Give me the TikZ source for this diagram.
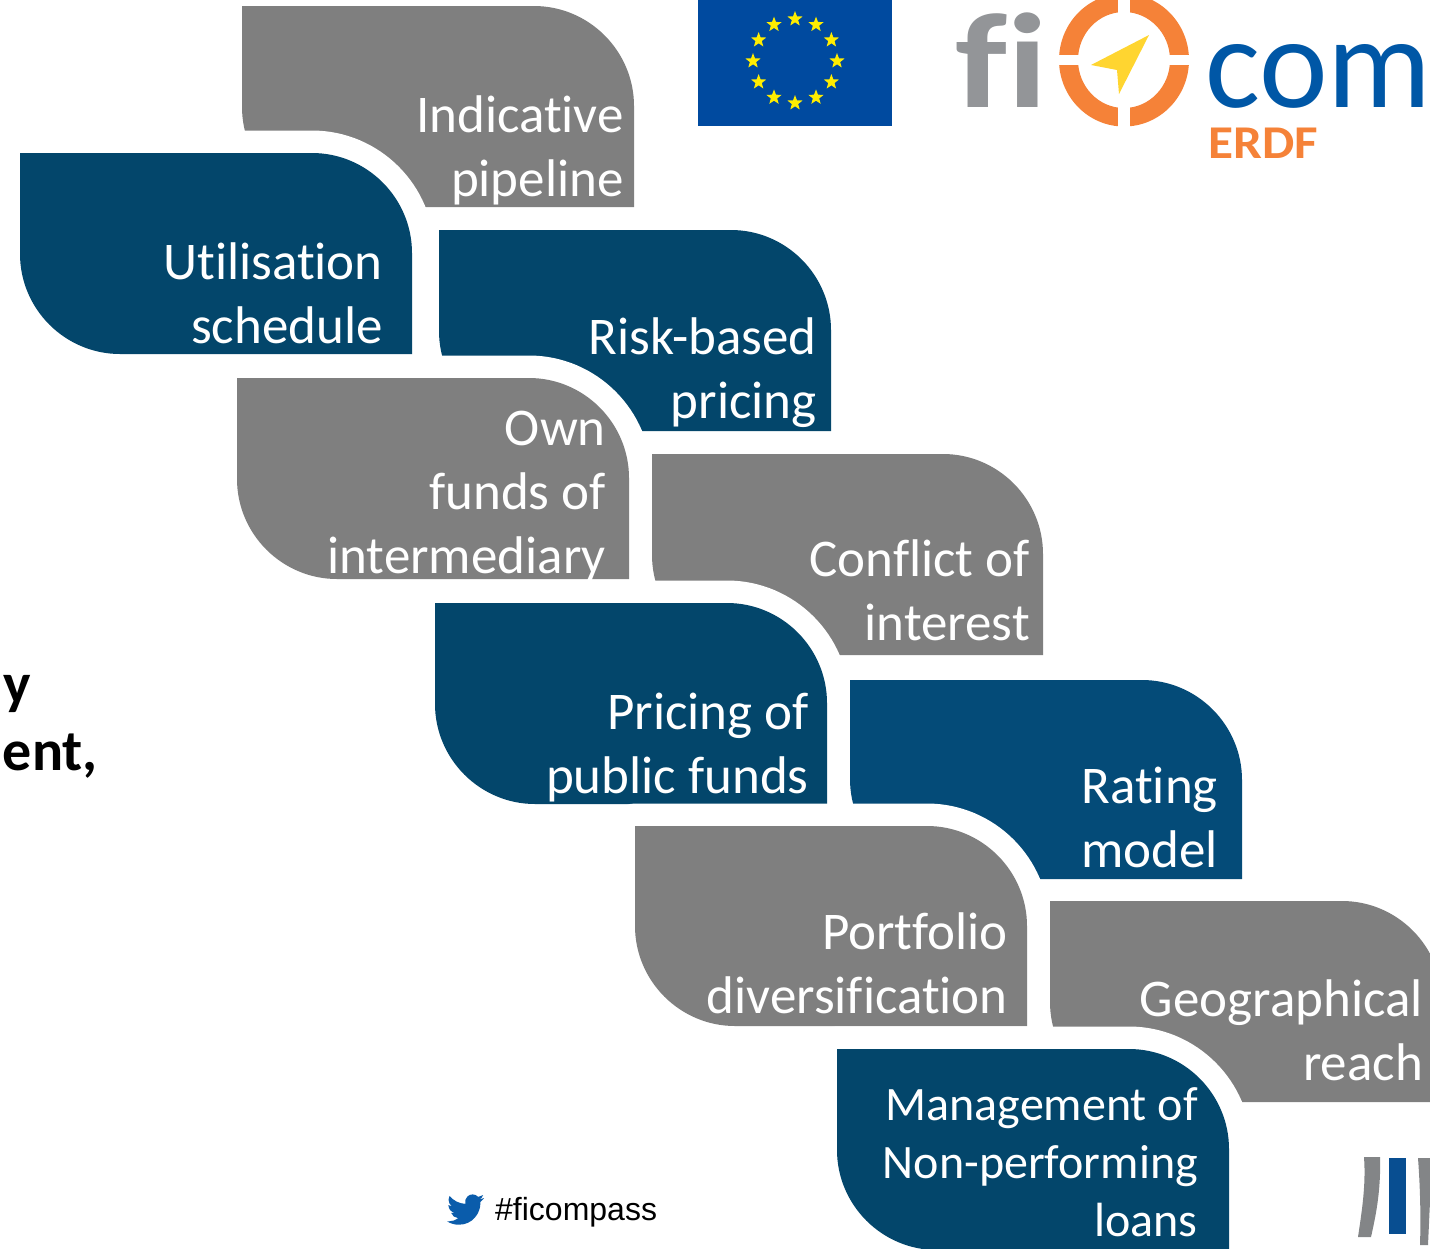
\documentclass[tikz,border=0pt]{standalone}
\usepackage{fontspec}
\usepackage{graphicx}
\setmainfont[Ligatures=NoCommon]{Carlito}
\newfontfamily\arialfont{Liberation Sans}
\usetikzlibrary{shapes.geometric}
\definecolor{tileGrey}{HTML}{7F7F7F}
\definecolor{tileBlue}{HTML}{03466B}
\definecolor{tileMid}{HTML}{044B78}
\definecolor{euBlue}{HTML}{004A9F}
\definecolor{euYellow}{HTML}{FFED00}
\definecolor{logoGrey}{HTML}{939598}
\definecolor{logoBlue}{HTML}{0057A6}
\definecolor{logoOrange}{HTML}{F58238}
\definecolor{logoYellow}{HTML}{FFD530}
\definecolor{birdBlue}{HTML}{0A5CAB}
\tikzset{
  tiletext/.style={anchor=base east,align=right,text=white,inner sep=0pt,font=\fontsize{53}{64}\selectfont},
  halo/.style={draw=white,line width=45pt,line join=round},
  eustar/.style={star,star points=5,star point ratio=2.4,fill=euYellow,inner sep=0pt,minimum size=16pt}
}
% #1 left, #2 top, #3 right, #4 bottom, #5 options
\newcommand{\tilepath}[5]{%
  \path[#5] (#1,#2) -- (#3-100,#2)
    .. controls (#3-45,#2) and (#3,#2+45) .. (#3,#2+100)
    -- (#3,#4) -- (#1+100,#4)
    .. controls (#1+45,#4) and (#1,#4-45) .. (#1,#4-100) -- cycle;}
\begin{document}
\begin{tikzpicture}[x=1pt,y=-1pt]
\useasboundingbox (0,0) rectangle (1430,1248);
\clip (0,0) rectangle (1430,1248);

% tiles, each later one cutting a white edge into the one before it
\tilepath{242}{6}{634}{207}{fill=tileGrey}
\tilepath{20}{153}{412}{354}{halo}
\tilepath{20}{153}{412}{354}{fill=tileBlue}
\tilepath{439}{230}{831}{431}{fill=tileBlue}
\tilepath{237}{378}{629}{579}{halo}
\tilepath{237}{378}{629}{579}{fill=tileGrey}
\tilepath{652}{454}{1043}{655}{fill=tileGrey}
\tilepath{435}{603}{827}{804}{halo}
\tilepath{435}{603}{827}{804}{fill=tileBlue}
\tilepath{850}{680}{1242}{879}{fill=tileMid}
\tilepath{635}{826}{1027}{1026}{halo}
\tilepath{635}{826}{1027}{1026}{fill=tileGrey}
\tilepath{1050}{901}{1442}{1102}{fill=tileGrey}
\tilepath{837}{1049}{1229}{1250}{halo}
\tilepath{837}{1049}{1229}{1250}{fill=tileBlue}

% tile labels
\node[tiletext] (pipeline) at (624,196) {Indicative\\pipeline};
\node[tiletext] (schedule) at (383,343) {Utilisation\\schedule};
\node[tiletext] (riskprice) at (817,418) {Risk-based\\pricing};
\node[tiletext] (ownfunds) at (606,573) {Own\\funds of\\intermediary};
\node[tiletext] (conflict) at (1030,640) {Conflict of\\interest};
\node[tiletext] (publicprice) at (809,793) {Pricing of\\public funds};
\node[tiletext] (rating) at (1218,867) {Rating\\model};
\node[tiletext] (portfolio) at (1008,1013) {Portfolio\\diversification};
\node[tiletext] (geo) at (1423,1080) {Geographical\\reach};
\node[tiletext,font=\fontsize{48}{58}\selectfont] (npl) at (1198,1236) {Management of\\Non-performing\\loans};

% left heading fragment
\node[anchor=base east,inner sep=0pt,font=\bfseries\fontsize{58}{64}\selectfont] (headA) at (31,703) {y};
\node[anchor=base east,inner sep=0pt,font=\bfseries\fontsize{58}{64}\selectfont] (headB) at (98,770) {ent,};

% EU flag
\fill[euBlue] (698,-2) rectangle (892,126);
\foreach \a in {0,30,...,330}
  \node[eustar] at ({795+42*cos(\a)},{61+42*sin(\a)}) {};

% fi-compass logo
\node[anchor=base west,inner sep=0pt,text=logoGrey,font=\bfseries\fontsize{135}{135}\selectfont] (fi) at (955,107) {\scalebox{1.22}[1]{fi}};
\fill[logoOrange,even odd rule] (1124,60) ellipse [x radius=65,y radius=66.5] (1124,60) ellipse [x radius=46,y radius=48];
\fill[white] (1118,-8) rectangle (1130,130);
\fill[white] (1050,55) rectangle (1200,65);
\fill[logoYellow] (1149,35) -- (1091,65) -- (1117,70) -- (1119,94) -- cycle;
\node[anchor=base west,inner sep=0pt,text=logoBlue,font=\fontsize{130}{130}\selectfont] (com) at (1205,107) {\scalebox{1}[1]{com}};
\node[anchor=base west,inner sep=0pt,text=logoOrange,font=\bfseries\fontsize{47}{47}\selectfont] (erdf) at (1208,158) {\scalebox{1.09}[1]{ERDF}};

% twitter handle
\begin{scope}[shift={(447,1191)},x=1.55pt,y=-1.55pt]
\fill[birdBlue] (23.95,4.57) .. controls (23.1,4.95) and (22.1,5.2) .. (21.13,5.35)
 .. controls (22.1,4.8) and (22.9,3.8) .. (23.29,2.62)
 .. controls (22.34,3.18) and (21.29,3.58) .. (20.16,3.8)
 .. controls (18.2,1.7) and (15,1.7) .. (13.2,3.5)
 .. controls (12,4.7) and (11.4,6.5) .. (11.78,8.29)
 .. controls (7.69,8.09) and (4.07,6.13) .. (1.64,3.16)
 .. controls (1.2,3.9) and (.97,4.75) .. (.97,5.64)
 .. controls (.97,7.35) and (1.84,8.85) .. (3.16,9.73)
 .. controls (2.35,9.7) and (1.6,9.5) .. (.93,9.12) -- (.93,9.18)
 .. controls (.93,11.5) and (2.6,13.6) .. (4.88,14)
 .. controls (4.2,14.2) and (3.4,14.2) .. (2.67,14.09)
 .. controls (3.3,16) and (5.1,17.4) .. (7.27,17.5)
 .. controls (5.6,18.85) and (3.4,19.6) .. (1.17,19.6)
 .. controls (.78,19.6) and (.39,19.58) .. (0,19.54)
 .. controls (2.2,20.95) and (4.8,21.75) .. (7.56,21.75)
 .. controls (16.61,21.75) and (21.56,14.25) .. (21.56,7.76)
 .. controls (21.56,7.55) and (21.56,7.34) .. (21.54,7.13)
 .. controls (22.5,6.44) and (23.3,5.57) .. (23.95,4.57) -- cycle;
\end{scope}
\node[anchor=base west,inner sep=0pt,font=\arialfont\fontsize{32}{32}\selectfont] (tag) at (495,1220) {\#ficompass};

% partner logo fragment, bottom right
\fill[logoGrey!80!black!90] (1364,1157) -- (1380,1157) .. controls (1381,1190) and (1376,1215) .. (1371,1237) -- (1358,1237) .. controls (1362,1210) and (1366,1185) .. (1364,1157) -- cycle;
\fill[birdBlue!85!black] (1389,1158) rectangle (1406,1234);
\fill[logoGrey!80!black!90] (1418,1158) -- (1432,1158) -- (1428,1245) -- (1420,1245) .. controls (1421,1215) and (1420,1185) .. (1418,1158) -- cycle;
\end{tikzpicture}
\end{document}
